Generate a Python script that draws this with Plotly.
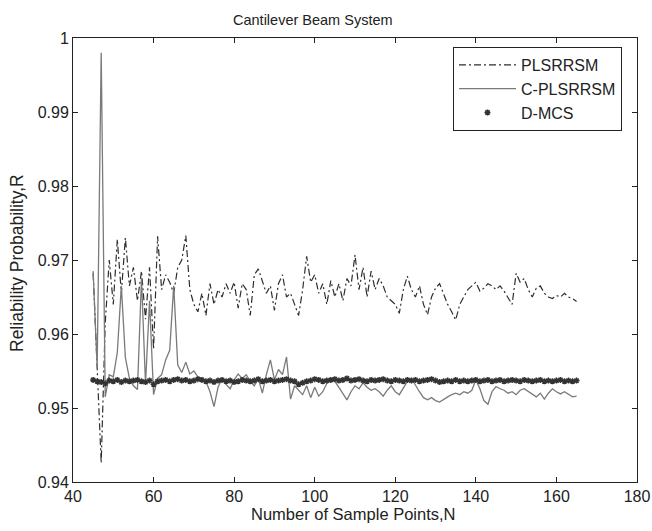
import plotly.graph_objects as go

# sample counts N = 45 ... 165
n_points = list(range(45, 166))

plsrrsm = [
    0.9682, 0.9560, 0.9426, 0.9615, 0.9700, 0.9640, 0.9728, 0.9655, 0.9730, 0.9665,
    0.9690, 0.9645, 0.9685, 0.9620, 0.9690, 0.9580, 0.9732, 0.9660, 0.9680, 0.9670,
    0.9655, 0.9690, 0.9700, 0.9733, 0.9660, 0.9640, 0.9630, 0.9655, 0.9625, 0.9668,
    0.9640, 0.9660, 0.9650, 0.9668, 0.9655, 0.9670, 0.9635, 0.9668, 0.9660, 0.9625,
    0.9680, 0.9688, 0.9670, 0.9655, 0.9665, 0.9632, 0.9668, 0.9680, 0.9650, 0.9655,
    0.9640, 0.9625, 0.9660, 0.9705, 0.9670, 0.9680, 0.9655, 0.9668, 0.9640, 0.9672,
    0.9650, 0.9668, 0.9645, 0.9675, 0.9665, 0.9707, 0.9660, 0.9690, 0.9650, 0.9685,
    0.9660, 0.9675, 0.9665, 0.9650, 0.9645, 0.9640, 0.9628, 0.9660, 0.9678, 0.9660,
    0.9650, 0.9665, 0.9640, 0.9626, 0.9650, 0.9662, 0.9668, 0.9655, 0.9640, 0.9630,
    0.9619, 0.9640, 0.9650, 0.9660, 0.9665, 0.9670, 0.9658, 0.9662, 0.9668, 0.9665,
    0.9660, 0.9665, 0.9658, 0.9648, 0.9640, 0.9682, 0.9670, 0.9675, 0.9660, 0.9650,
    0.9662, 0.9665, 0.9655, 0.9650, 0.9648, 0.9652, 0.9650, 0.9655, 0.9650, 0.9648,
    0.9644,
]

c_plsrrsm = [
    0.9685, 0.9555, 0.9980, 0.9515, 0.9545, 0.9542, 0.9575, 0.9665, 0.9568, 0.9540,
    0.9530, 0.9525, 0.9675, 0.9532, 0.9645, 0.9518, 0.9540, 0.9545, 0.9565, 0.9578,
    0.9665, 0.9558, 0.9548, 0.9562, 0.9546, 0.9550, 0.9542, 0.9540, 0.9536, 0.9522,
    0.9502, 0.9528, 0.9540, 0.9532, 0.9526, 0.9538, 0.9546, 0.9540, 0.9545, 0.9536,
    0.9530, 0.9540, 0.9520, 0.9545, 0.9565, 0.9538, 0.9552, 0.9545, 0.9569, 0.9512,
    0.9530, 0.9524, 0.9518, 0.9530, 0.9514, 0.9528, 0.9516, 0.9522, 0.9533, 0.9538,
    0.9536, 0.9528, 0.9520, 0.9511, 0.9522, 0.9530, 0.9526, 0.9534, 0.9528, 0.9524,
    0.9526, 0.9522, 0.9516, 0.9524, 0.9530, 0.9522, 0.9518, 0.9528, 0.9536, 0.9540,
    0.9530, 0.9522, 0.9514, 0.9511, 0.9514, 0.9510, 0.9508, 0.9512, 0.9515, 0.9518,
    0.9520, 0.9518, 0.9522, 0.9520, 0.9524, 0.9538, 0.9526, 0.9510, 0.9505, 0.9522,
    0.9529, 0.9526, 0.9524, 0.9520, 0.9522, 0.9518, 0.9524, 0.9526, 0.9522, 0.9518,
    0.9515, 0.9520, 0.9512, 0.9520, 0.9526, 0.9522, 0.9519, 0.9522, 0.9518, 0.9515,
    0.9516,
]

d_mcs = [
    0.9538, 0.9536, 0.9535, 0.9533, 0.9537, 0.9536, 0.9538, 0.9535, 0.9537, 0.9536,
    0.9537, 0.9538, 0.9536, 0.9535, 0.9537, 0.9532, 0.9536, 0.9537, 0.9538, 0.9536,
    0.9538, 0.9539, 0.9537, 0.9538, 0.9536, 0.9537, 0.9539, 0.9538, 0.9536, 0.9537,
    0.9535, 0.9537, 0.9538, 0.9536, 0.9537, 0.9535, 0.9536, 0.9538, 0.9537, 0.9536,
    0.9537, 0.9539, 0.9536, 0.9537, 0.9538, 0.9536, 0.9537, 0.9538, 0.9539, 0.9537,
    0.9536, 0.9532, 0.9534, 0.9536, 0.9537, 0.9539, 0.9538, 0.9536, 0.9537, 0.9538,
    0.9539, 0.9537, 0.9538, 0.9540, 0.9537, 0.9538, 0.9539, 0.9537, 0.9536, 0.9538,
    0.9537, 0.9538, 0.9539, 0.9537, 0.9536, 0.9538, 0.9537, 0.9536, 0.9538, 0.9537,
    0.9538, 0.9536, 0.9537, 0.9538, 0.9539, 0.9537, 0.9535, 0.9536, 0.9537, 0.9536,
    0.9538, 0.9536, 0.9537, 0.9536, 0.9537, 0.9538, 0.9536, 0.9537, 0.9538, 0.9536,
    0.9537, 0.9538, 0.9536, 0.9537, 0.9538, 0.9537, 0.9536, 0.9538, 0.9537, 0.9536,
    0.9537, 0.9538, 0.9536, 0.9537, 0.9536, 0.9537, 0.9538, 0.9536, 0.9537, 0.9536,
    0.9537,
]

FONT = 'Liberation Sans, Arial, sans-serif'

fig = go.Figure()

fig.add_trace(go.Scatter(
    name='PLSRRSM', x=n_points, y=plsrrsm, mode='lines',
    line={'color': '#2e2e2e', 'width': 1.2, 'dash': '7px,3px,2px,3px'}))

fig.add_trace(go.Scatter(
    name='C-PLSRRSM', x=n_points, y=c_plsrrsm, mode='lines',
    line={'color': '#7a7a7a', 'width': 1.3}))

fig.add_trace(go.Scatter(
    name='D-MCS', x=n_points, y=d_mcs, mode='markers',
    marker={'symbol': 'asterisk-open', 'size': 5, 'color': '#333',
            'line': {'color': '#333', 'width': 1.5}}))

axis_common = dict(showline=True, linecolor='#222', linewidth=1, mirror='ticks',
                   ticks='inside', ticklen=5, tickcolor='#222', showgrid=False,
                   zeroline=False, automargin=False,
                   tickfont={'size': 16, 'color': '#222'})

# plot area in pixels: x 73..637, y 38..482
def px_x(px):
    return (px - 73) / 564


def px_y(py):
    return (482 - py) / 444


fig.update_layout(
    width=652, height=531,
    margin={'l': 73, 'r': 15, 't': 38, 'b': 49},
    paper_bgcolor='white', plot_bgcolor='white',
    font={'family': FONT, 'color': '#222'},
    xaxis=dict(range=[40, 180], dtick=20, **axis_common),
    yaxis=dict(range=[0.94, 1.0], dtick=0.01, **axis_common),
    legend={'x': px_x(453), 'y': px_y(47), 'xanchor': 'left', 'yanchor': 'top',
            'bordercolor': '#222', 'borderwidth': 1, 'bgcolor': 'white',
            'font': {'size': 16}, 'tracegroupgap': 0, 'itemwidth': 57},
    showlegend=True,
    annotations=[
        dict(text='Cantilever Beam System', x=px_x(313), y=px_y(20),
             xref='paper', yref='paper', showarrow=False,
             xanchor='center', yanchor='middle', font={'size': 14.5}),
        dict(text='Number of Sample Points,N', x=px_x(353), y=px_y(514),
             xref='paper', yref='paper', showarrow=False,
             xanchor='center', yanchor='middle', font={'size': 16.5}),
        dict(text='Reliability Probability,R', x=px_x(17), y=px_y(263),
             xref='paper', yref='paper', showarrow=False, textangle=-90,
             xanchor='center', yanchor='middle', font={'size': 17.5}),
    ],
)

# drop the default page margin so the figure fills the window exactly
fig.write_html('out.html', config={'displayModeBar': False},
               post_script="document.body.style.margin='0';")
